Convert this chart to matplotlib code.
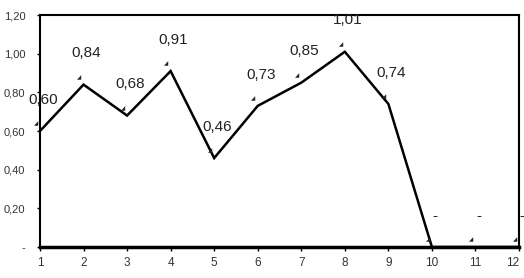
import matplotlib
matplotlib.use("Agg")
import matplotlib.pyplot as plt

# ---------------------------------------------------------------------------
# Data
# ---------------------------------------------------------------------------
X = list(range(1, 13))
VALUES = [0.60, 0.84, 0.68, 0.91, 0.46, 0.73, 0.85, 1.01, 0.74, 0.0, 0.0, 0.0]
Y_TICKS = [0.0, 0.2, 0.4, 0.6, 0.8, 1.0, 1.2]


def fmt(v):
    # Excel-style: comma decimal, zero shown as a dash
    return "-" if v == 0 else f"{v:.2f}".replace(".", ",")


plt.rcParams["font.family"] = ["Liberation Sans", "DejaVu Sans"]

# ---------------------------------------------------------------------------
# Figure
# ---------------------------------------------------------------------------
fig = plt.figure(figsize=(5.24, 2.78), dpi=100)
ax = fig.add_axes([0.0763, 0.1115, 0.9142, 0.8345])

ax.plot(X, VALUES, color="black", linewidth=1.8, solid_joinstyle="miter",
        clip_on=False, zorder=3)

for xv, yv in zip(X, VALUES):
    ax.annotate(fmt(yv), xy=(xv, yv), xytext=(2.2, 22.5),
                textcoords="offset points", ha="center", va="center",
                fontsize=11, color="#222222")
    # little leader wedges left by the label placement
    ax.annotate("\u25e2", xy=(xv, yv), xytext=(-3, 5),
                textcoords="offset points", ha="center", va="center",
                fontsize=4, color="#222222", family="DejaVu Sans")

ax.set_xlim(1, 12)
ax.set_ylim(0, 1.2)
ax.set_xticks(X)
ax.set_xticklabels([str(v) for v in X])
ax.set_yticks(Y_TICKS)
ax.set_yticklabels([fmt(v) for v in Y_TICKS])

ax.tick_params(axis="x", direction="out", length=3, width=1, pad=4,
               labelsize=8.5, labelcolor="#333333")
ax.tick_params(axis="y", direction="out", length=2.5, width=1, pad=8,
               labelsize=8, labelcolor="#333333")
# keep the last x label inside the canvas, as in the reference
ax.get_xticklabels()[-1].set_horizontalalignment("right")

for side in ["top", "left", "right"]:
    ax.spines[side].set_linewidth(1.5)
ax.spines["bottom"].set_linewidth(2.5)
for s in ax.spines.values():
    s.set_color("black")

plt.savefig("out.png", dpi=100)
